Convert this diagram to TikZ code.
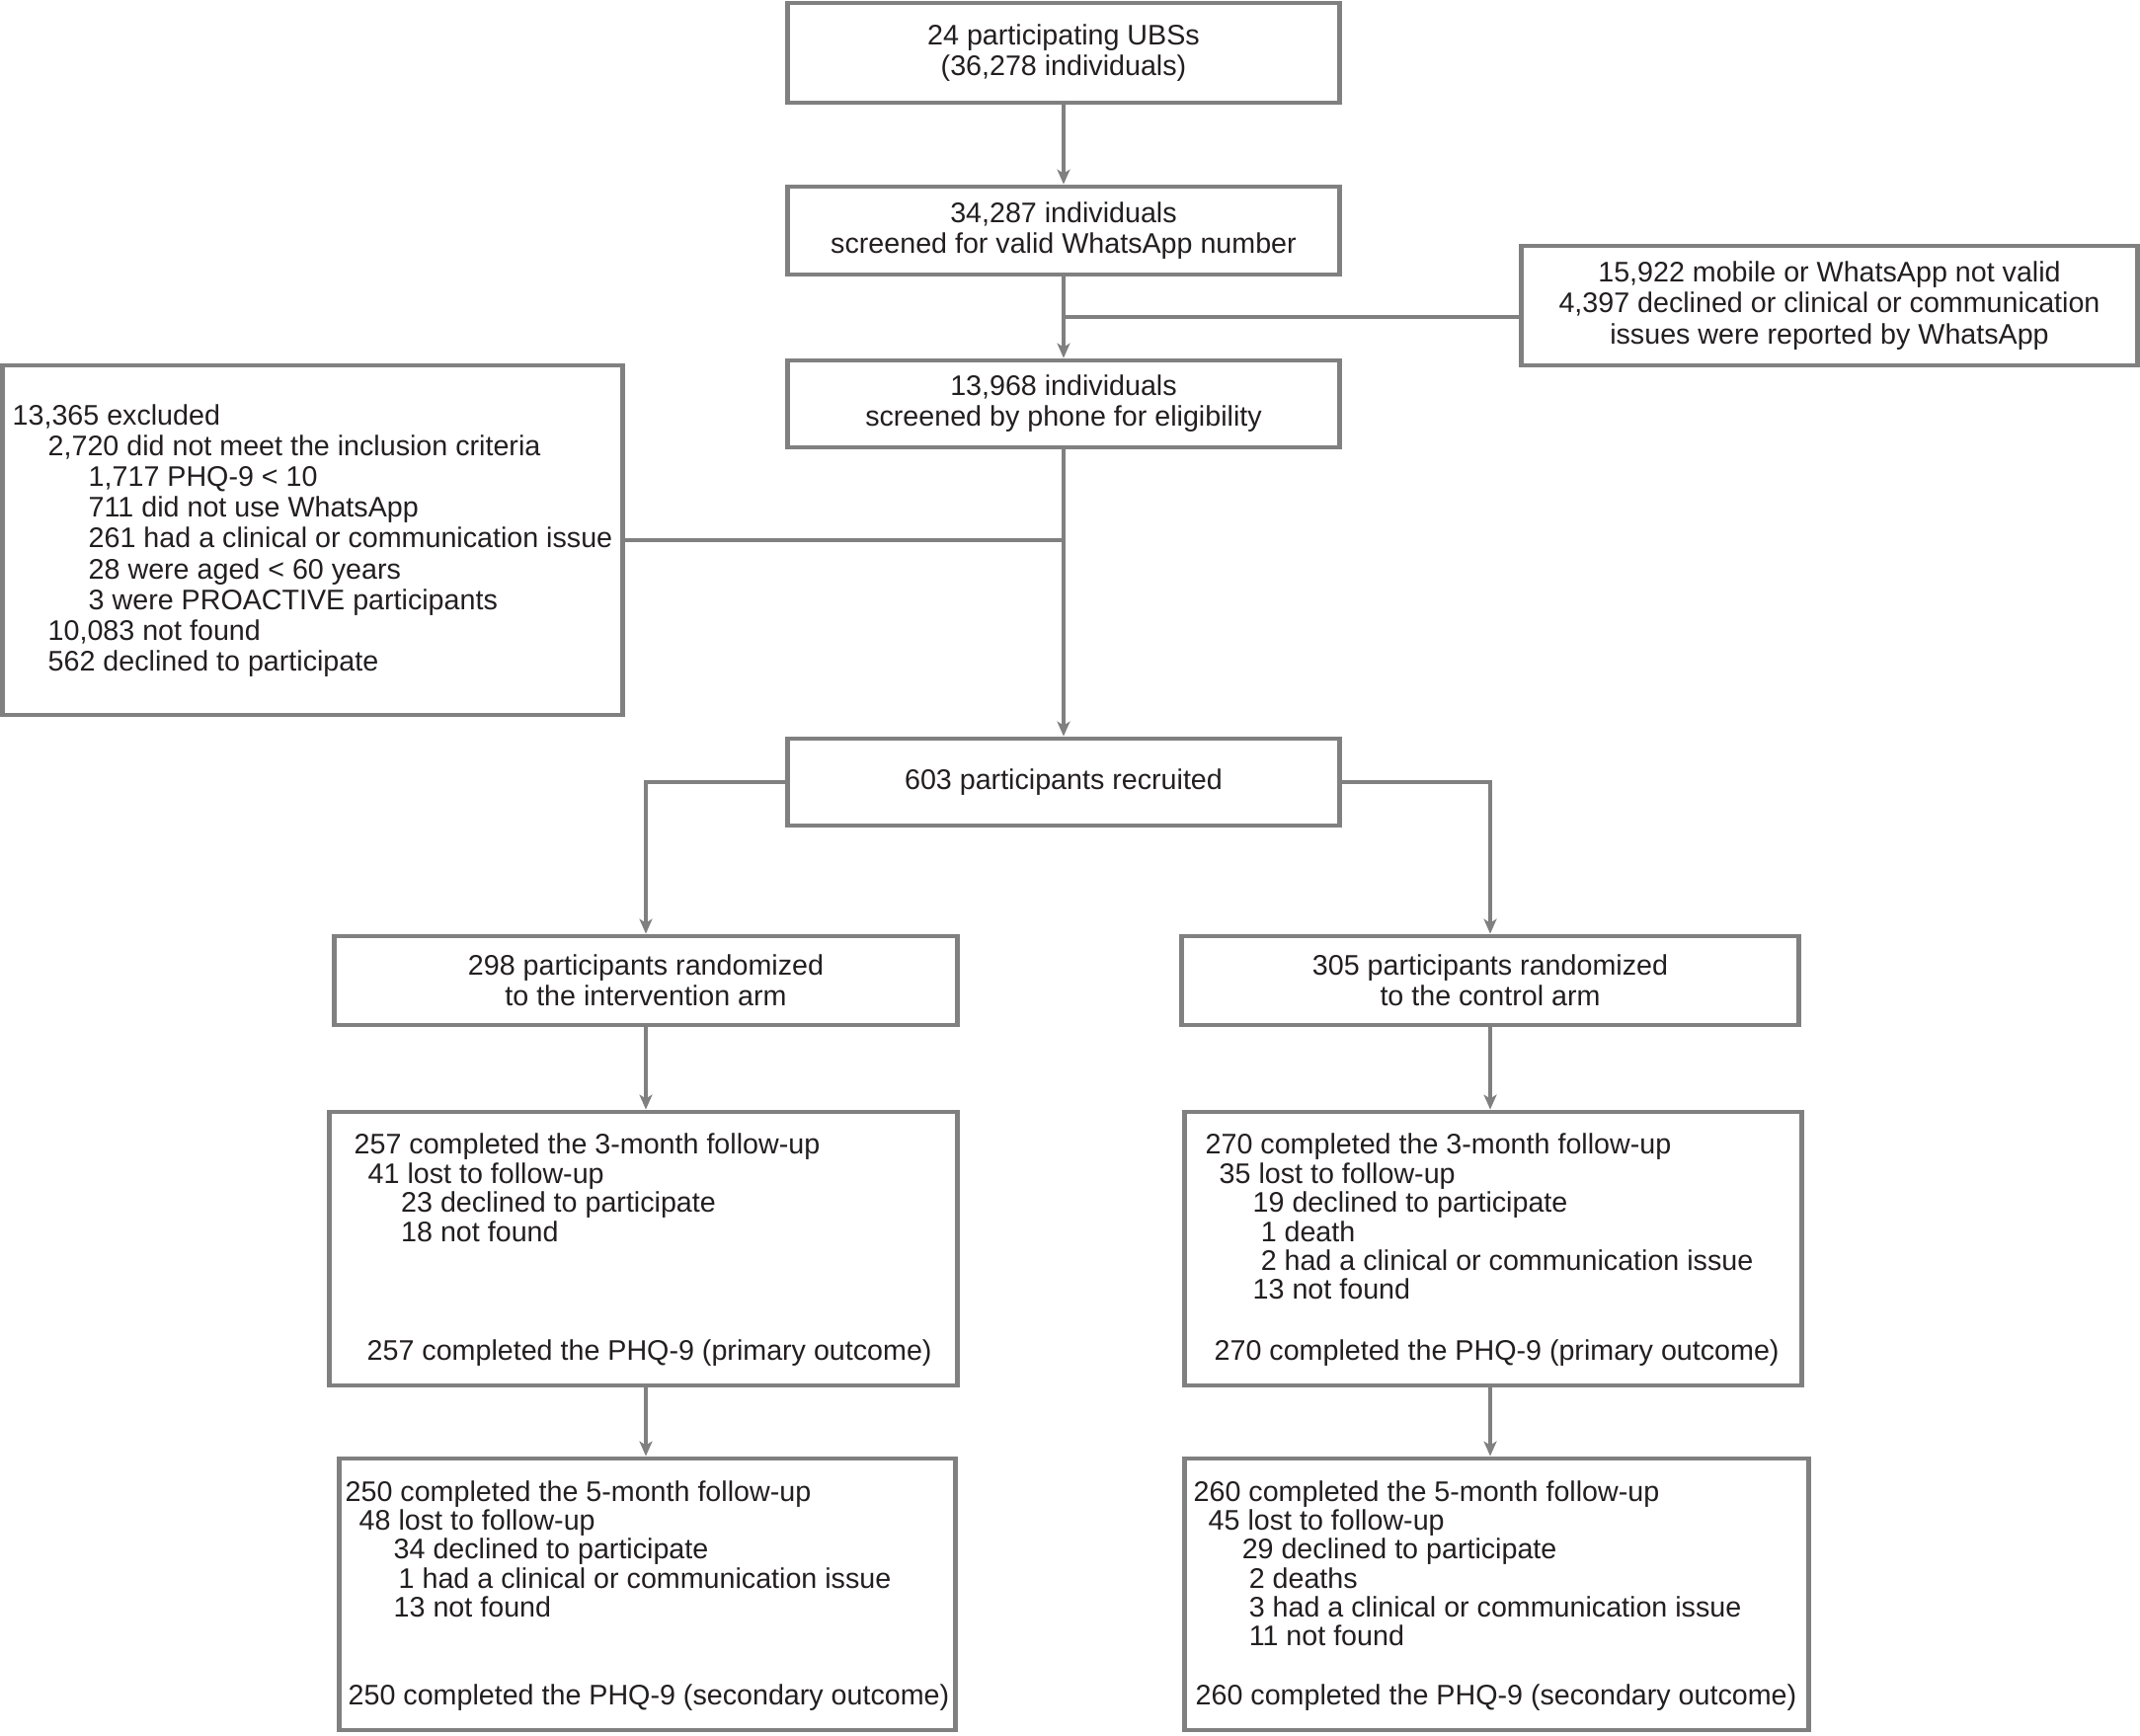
\documentclass[tikz,border=0pt]{standalone}
\usepackage{fontspec}
\setmainfont{Liberation Sans}
\usetikzlibrary{arrows.meta}
\definecolor{lg}{HTML}{808080}
\definecolor{tx}{HTML}{231F20}
\newcommand\figfontA{\fontsize{8.15}{8.85}\selectfont}
\newcommand\figfontB{\fontsize{8.15}{8.35}\selectfont}
\begin{document}
\begin{tikzpicture}[x=0.01cm,y=-0.01cm,
  box/.style 2 args={draw=lg,line width=1.35pt,fill=white,inner sep=0pt,
    minimum width=#1,minimum height=#2,align=center,text=tx,font=\figfontA},
  listA/.style={anchor=north west,inner sep=0pt,align=left,text=tx,font=\figfontA},
  listB/.style={anchor=north west,inner sep=0pt,align=left,text=tx,font=\figfontB},
  conn/.style={draw=lg,line width=1.0pt},
  arr/.style={conn,-{Stealth[length=0.15cm,width=0.13cm,inset=0.04cm]}}]
\useasboundingbox (0,0) rectangle (2167,1757);
\fill[white] (0,0) rectangle (2167,1757);

% boxes
\node[box={5.59cm}{1.01cm}] (top) at (1077,53.5) {24 participating UBSs\\(36,278 individuals)};
\node[box={5.59cm}{0.89cm}] (wa) at (1077,233.5) {34,287 individuals\\screened for valid WhatsApp number};
\node[box={6.23cm}{1.21cm}] (nv) at (1852.5,309.5) {15,922 mobile or WhatsApp not valid\\4,397 declined or clinical or communication\\issues were reported by WhatsApp};
\node[box={5.59cm}{0.88cm}] (ph) at (1077,409) {13,968 individuals\\screened by phone for eligibility};
\node[box={6.27cm}{3.54cm}] (ex) at (316.5,547) {};
\node[box={5.59cm}{0.88cm}] (rec) at (1077,792) {603 participants recruited};
\node[box={6.30cm}{0.90cm}] (int) at (654,993) {298 participants randomized\\to the intervention arm};
\node[box={6.24cm}{0.90cm}] (ctl) at (1509,993) {305 participants randomized\\to the control arm};
\node[box={6.35cm}{2.77cm}] (m3l) at (651.5,1264.5) {};
\node[box={6.24cm}{2.77cm}] (m3r) at (1512,1264.5) {};
\node[box={6.23cm}{2.75cm}] (m5l) at (655.5,1614.5) {};
\node[box={6.31cm}{2.75cm}] (m5r) at (1515.5,1614.5) {};

% box texts
\node[listA] (ext) at (12,409) {13,365 excluded\\
\hspace*{0.36cm}2,720 did not meet the inclusion criteria\\
\hspace*{0.77cm}1,717 PHQ-9 < 10\\
\hspace*{0.77cm}711 did not use WhatsApp\\
\hspace*{0.77cm}261 had a clinical or communication issue\\
\hspace*{0.77cm}28 were aged < 60 years\\
\hspace*{0.77cm}3 were PROACTIVE participants\\
\hspace*{0.36cm}10,083 not found\\
\hspace*{0.36cm}562 declined to participate};

\node[listB] (m3lt) at (358,1147.5) {257 completed the 3-month follow-up\\
\hspace*{0.14cm}41 lost to follow-up\\
\hspace*{0.475cm}23 declined to participate\\
\hspace*{0.475cm}18 not found};
\node[listB] (m3lf) at (371,1356) {257 completed the PHQ-9 (primary outcome)};

\node[listB] (m3rt) at (1220,1147.5) {270 completed the 3-month follow-up\\
\hspace*{0.14cm}35 lost to follow-up\\
\hspace*{0.48cm}19 declined to participate\\
\hspace*{0.56cm}1 death\\
\hspace*{0.56cm}2 had a clinical or communication issue\\
\hspace*{0.48cm}13 not found};
\node[listB] (m3rf) at (1229,1356) {270 completed the PHQ-9 (primary outcome)};

\node[listB] (m5lt) at (349,1498.5) {250 completed the 5-month follow-up\\
\hspace*{0.14cm}48 lost to follow-up\\
\hspace*{0.49cm}34 declined to participate\\
\hspace*{0.54cm}1 had a clinical or communication issue\\
\hspace*{0.49cm}13 not found};
\node[listB] (m5lf) at (352,1704.5) {250 completed the PHQ-9 (secondary outcome)};

\node[listB] (m5rt) at (1208,1498.5) {260 completed the 5-month follow-up\\
\hspace*{0.15cm}45 lost to follow-up\\
\hspace*{0.49cm}29 declined to participate\\
\hspace*{0.56cm}2 deaths\\
\hspace*{0.56cm}3 had a clinical or communication issue\\
\hspace*{0.56cm}11 not found};
\node[listB] (m5rf) at (1210,1704.5) {260 completed the PHQ-9 (secondary outcome)};

% connectors
\coordinate (j1) at (1077,321);
\coordinate (j2) at (1077,547);
\draw[arr] (top.south) -- (wa.north);
\draw[arr] (wa.south) -- (ph.north);
\draw[conn] (j1) -- (j1 -| nv.west);
\draw[arr] (ph.south) -- (rec.north);
\draw[conn] (j2) -- (j2 -| ex.east);
\draw[arr] (rec.west) -| (int.north);
\draw[arr] (rec.east) -| (ctl.north);
\draw[arr] (int.south) -- (int.south |- m3l.north);
\draw[arr] (ctl.south) -- (ctl.south |- m3r.north);
\draw[arr] (int.south |- m3l.south) -- (int.south |- m5l.north);
\draw[arr] (ctl.south |- m3r.south) -- (ctl.south |- m5r.north);
\end{tikzpicture}
\end{document}
